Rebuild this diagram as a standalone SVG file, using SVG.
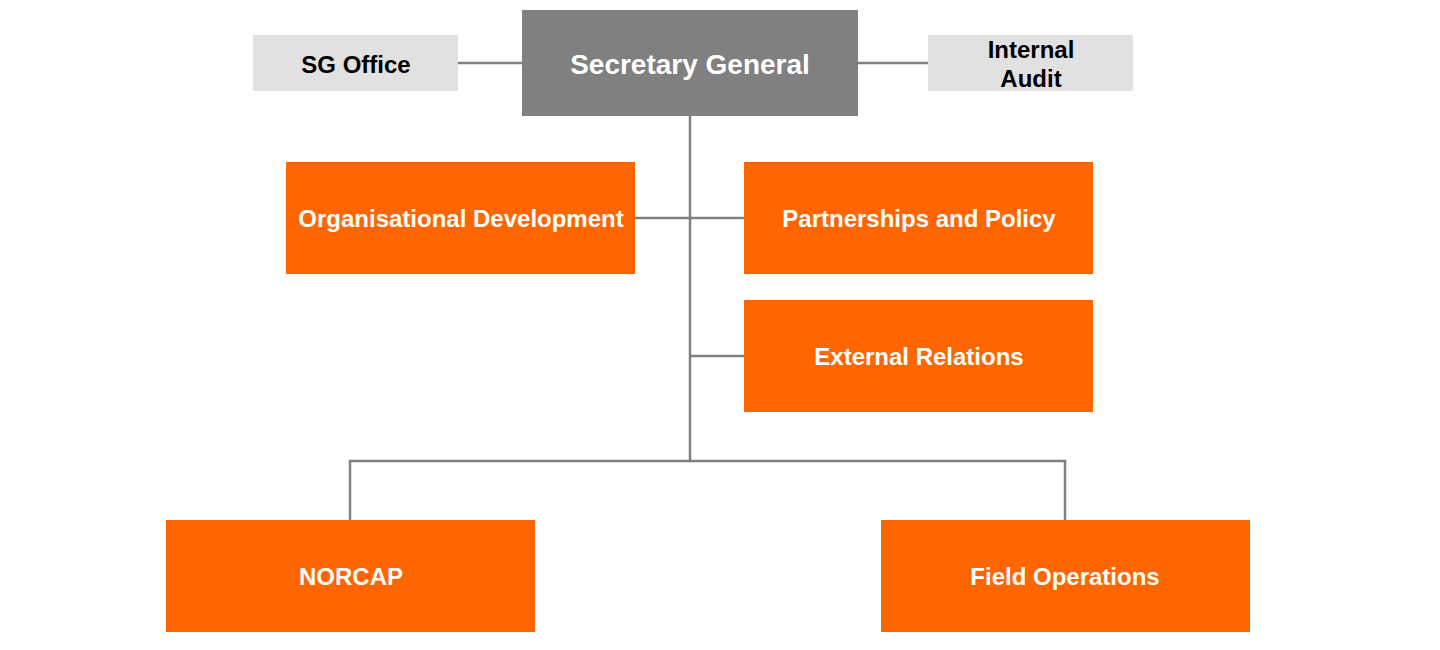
<svg xmlns="http://www.w3.org/2000/svg" width="1440" height="650" viewBox="0 0 1440 650">
<style>
.org{fill:#ff6600}
.grey{fill:#e1e1e1}
.t{font-family:"Liberation Sans",Arial,sans-serif;font-weight:bold;text-anchor:middle;dominant-baseline:central}
.w{fill:#ffffff}
.k{fill:#000000}
.c{stroke:#808080;stroke-width:2.5;fill:none}
</style>
<rect width="1440" height="650" fill="#ffffff"/>
<g id="connectors">
<line class="c" x1="458" y1="63" x2="522" y2="63"/>
<line class="c" x1="858" y1="63" x2="928" y2="63"/>
<line class="c" x1="690" y1="116" x2="690" y2="461"/>
<line class="c" x1="635" y1="218" x2="744" y2="218"/>
<line class="c" x1="690" y1="356" x2="744" y2="356"/>
<polyline class="c" points="350,520 350,461 1065,461 1065,520"/>
</g>
<g id="secretary-general">
<rect x="522" y="10" width="336" height="106" fill="#808080"/>
<text class="t w" x="690" y="64" font-size="28">Secretary General</text>
</g>
<g id="sg-office">
<rect class="grey" x="253" y="35" width="205" height="56"/>
<text class="t k" x="356" y="64" font-size="24">SG Office</text>
</g>
<g id="internal-audit">
<rect class="grey" x="928" y="35" width="205" height="56"/>
<text class="t k" x="1031" y="49" font-size="24">Internal</text>
<text class="t k" x="1031" y="78" font-size="24">Audit</text>
</g>
<g id="organisational-development">
<rect class="org" x="286" y="162" width="349" height="112"/>
<text class="t w" x="461" y="218" font-size="24">Organisational Development</text>
</g>
<g id="partnerships-and-policy">
<rect class="org" x="744" y="162" width="349" height="112"/>
<text class="t w" x="919" y="218" font-size="24">Partnerships and Policy</text>
</g>
<g id="external-relations">
<rect class="org" x="744" y="300" width="349" height="112"/>
<text class="t w" x="919" y="356" font-size="24">External Relations</text>
</g>
<g id="norcap">
<rect class="org" x="166" y="520" width="369" height="112"/>
<text class="t w" x="351" y="576" font-size="24">NORCAP</text>
</g>
<g id="field-operations">
<rect class="org" x="881" y="520" width="369" height="112"/>
<text class="t w" x="1065" y="576" font-size="24">Field Operations</text>
</g>
</svg>
